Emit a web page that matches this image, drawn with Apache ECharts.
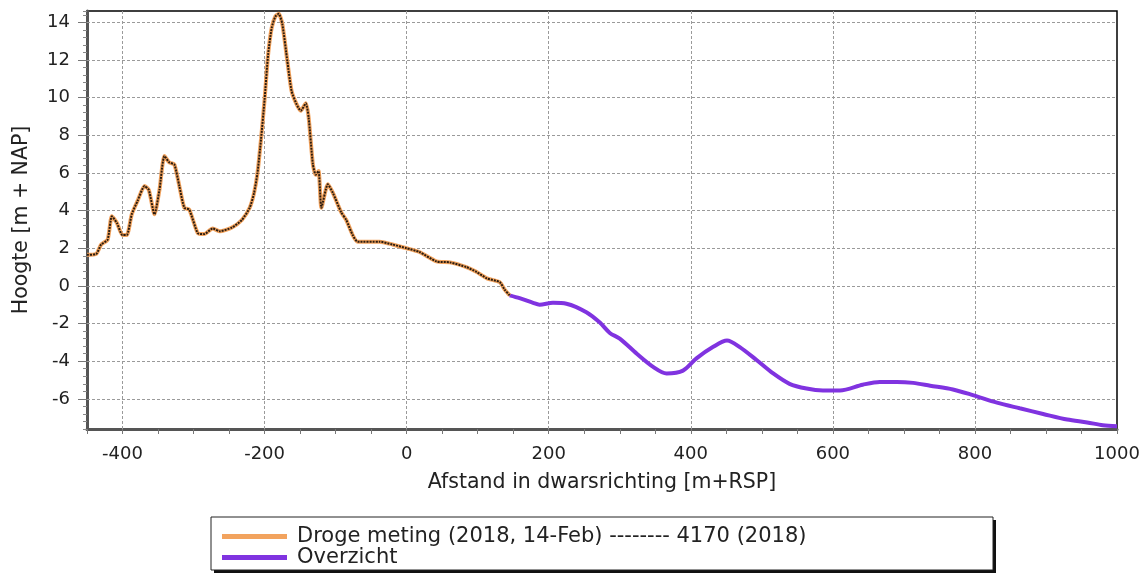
<!DOCTYPE html>
<html><head><meta charset="utf-8">
<script src="https://cdn.jsdelivr.net/npm/echarts@6/dist/echarts.min.js"></script>
<style>html,body{margin:0;padding:0;background:#fff}#c{width:1148px;height:575px}</style>
</head><body><div id="c"></div>
<script>
const orangeName = 'Droge meting (2018, 14-Feb) -------- 4170 (2018)';
const purpleName = 'Overzicht';
const orangeX = [-450,-437,-430,-421,-415,-408,-400,-394,-387,-379,-369,-363,-355,-348,-341,-334,-327,-320,-313,-306,-294,-285,-273,-263,-246,-232,-221,-215,-210,-205,-200,-195,-190,-185,-180,-175,-168,-162,-155,-149,-142,-138,-132,-128,-124,-120,-111,-104,-92,-85,-76,-69,-38,-20,0,18,42,61,84,98,113,131,138,145];
const orangeY = [1.65,1.7,2.2,2.45,3.7,3.35,2.7,2.7,3.8,4.5,5.3,5.1,3.8,5.1,6.9,6.55,6.45,5.3,4.15,4.05,2.8,2.75,3.05,2.9,3.1,3.5,4.15,4.9,6.0,7.8,9.9,12.3,13.7,14.3,14.45,13.9,11.95,10.35,9.65,9.3,9.7,8.95,6.45,5.9,6.1,4.15,5.4,4.95,3.9,3.5,2.7,2.35,2.35,2.2,2.0,1.8,1.3,1.25,1.0,0.75,0.4,0.2,-0.2,-0.5];
const purpleX = [145,159,178,187,206,225,253,272,286,300,324,347,366,389,408,431,451,469,493,516,539,563,586,610,642,666,690,713,737,769,797,831,863,896,930,958,980,1000];
const purpleY = [-0.5,-0.65,-0.9,-1.0,-0.9,-0.95,-1.4,-1.95,-2.5,-2.8,-3.6,-4.3,-4.65,-4.5,-3.85,-3.25,-2.9,-3.25,-3.95,-4.65,-5.2,-5.45,-5.55,-5.55,-5.25,-5.1,-5.1,-5.15,-5.3,-5.5,-5.8,-6.2,-6.5,-6.8,-7.1,-7.25,-7.4,-7.45];
const xGridValues = [-400,-200,0,200,400,600,800];
const yGridValues = [-6,-4,-2,0,2,4,6,8,10,12,14];
const xMin = -450, xMax = 1000, yMin = -7.6, yMax = 14.6;

const zip = (a,b) => a.map((v,i)=>[v,b[i]]);
const FONT = 'DejaVu Sans';
const TXT = '#222';
const gridStyle = {color:'#9a9a9a', type:[3,2], width:1};
const chart = echarts.init(document.getElementById('c'), null, {renderer:'canvas'});
chart.setOption({
  animation:false,
  backgroundColor:'#fff',
  textStyle:{fontFamily:FONT},
  grid:{left:87,right:31,top:11,bottom:146,show:true,borderColor:'#000',borderWidth:1.5,backgroundColor:'#fff'},
  xAxis:[{type:'value',min:xMin,max:xMax,interval:50,
    name:'Afstand in dwarsrichting [m+RSP]',nameLocation:'middle',nameGap:43,
    nameTextStyle:{fontFamily:FONT,fontSize:20.5,color:TXT},
    axisLine:{show:true,onZero:false,lineStyle:{color:'#555',width:3}},
    axisTick:{show:true,length:5,lineStyle:{color:'#777'}},
    axisLabel:{fontFamily:FONT,fontSize:18,color:TXT,margin:16,
      formatter:v=>(Math.abs(v%200)<1e-6?String(v):'')},
    splitLine:{show:false}}],
  yAxis:[{type:'value',min:yMin,max:yMax,interval:0.4,
    name:'Hoogte [m + NAP]',nameLocation:'middle',nameGap:55,nameRotate:90,
    nameTextStyle:{fontFamily:FONT,fontSize:20.5,color:TXT},
    axisLine:{show:true,onZero:false,lineStyle:{color:'#555',width:3}},
    axisTick:{show:true,length:4,lineStyle:{color:'#888'}},
    axisLabel:{fontFamily:FONT,fontSize:18,color:TXT,margin:17,
      formatter:v=>{const r=Math.round(v); return (Math.abs(v-r)<1e-6 && r%2===0)?String(r):'';}},
    splitLine:{show:false}},
   {type:'value',min:yMin,max:yMax,position:'left',
    axisLine:{show:false,onZero:false},
    axisTick:{show:true,length:9,customValues:yGridValues,lineStyle:{color:'#777'}},
    axisLabel:{show:false},
    splitLine:{show:false}}],
  legend:{show:true,orient:'vertical',left:222,top:526,padding:0,itemGap:0,itemWidth:65,itemHeight:5,icon:'rect',
    data:[orangeName,purpleName],
    textStyle:{fontFamily:FONT,fontSize:21,lineHeight:21,color:TXT,padding:[0,0,0,5]}},
  graphic:[
    {type:'rect',shape:{x:214,y:520,width:782,height:53},style:{fill:'#111'},z:-2},
    {type:'rect',shape:{x:211,y:517,width:782,height:53},style:{fill:'#fff',stroke:'#222',lineWidth:1},z:-1}
  ],
  series:[
    {type:'line',name:'grid',data:[],silent:true,z:1,
      markLine:{silent:true,symbol:'none',z:1,label:{show:false},lineStyle:gridStyle,animation:false,
        data:[...xGridValues.map(v=>({xAxis:v})),...yGridValues.map(v=>({yAxis:v}))]}},
    {type:'line',name:purpleName,data:zip(purpleX,purpleY),showSymbol:false,smooth:0.3,z:3,
      lineStyle:{color:'#8033E0',width:4},itemStyle:{color:'#8033E0'}},
    {type:'line',name:orangeName,data:zip(orangeX,orangeY),showSymbol:false,smooth:0.2,z:4,
      lineStyle:{color:'#F2A35E',width:4},itemStyle:{color:'#F2A35E'}},
    {type:'line',name:'orangeDots',data:zip(orangeX,orangeY),showSymbol:false,smooth:0.2,z:5,
      lineStyle:{color:'#2a1c10',width:2,type:[2,1]}}
  ]
});
</script></body></html>
